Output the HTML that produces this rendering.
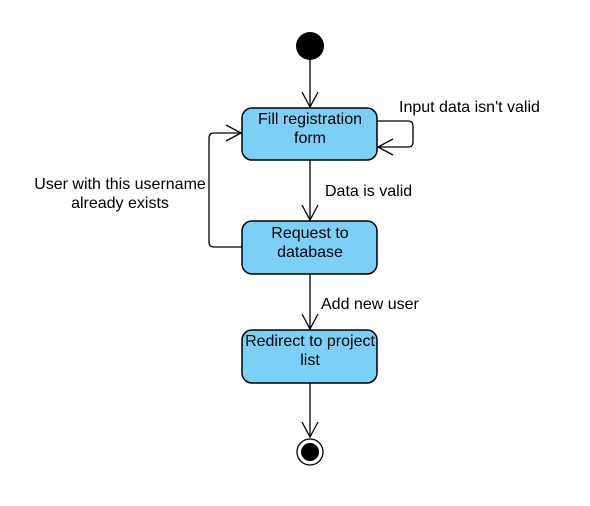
<!DOCTYPE html>
<html><head><style>html,body{margin:0;padding:0;background:#fff;}svg{display:block;}</style></head>
<body>
<svg width="590" height="506" viewBox="0 0 590 506" xmlns="http://www.w3.org/2000/svg" font-family="Liberation Sans, Arial, sans-serif" font-size="16">
<g fill="none" stroke="#000" stroke-width="1.3">
<path d="M310 60 V107"/><path d="M302 92 L310 107 L318 92"/>
<path d="M310 160 V220"/><path d="M302 205 L310 220 L318 205"/>
<path d="M310 274 V329"/><path d="M302 314 L310 329 L318 314"/>
<path d="M310 383 V437"/><path d="M302 422 L310 437 L318 422"/>
<path d="M377 121 H408 Q413 121 413 126 V142 Q413 147 408 147 H378"/><path d="M393 139 L378 147 L393 155"/>
<path d="M242 247 H214 Q209 247 209 242 V138 Q209 133 214 133 H241"/><path d="M226 125 L241 133 L226 141"/>
</g>
<circle cx="310" cy="46" r="14" fill="#000"/>
<circle cx="310" cy="452" r="13" fill="#fff" stroke="#000" stroke-width="1.3"/>
<circle cx="310" cy="452" r="9" fill="#000"/>
<g fill="#7dd0f5" stroke="#000" stroke-width="1.5">
<rect x="242" y="108" width="135" height="52" rx="10"/>
<rect x="242" y="221" width="135" height="53" rx="10"/>
<rect x="242" y="330" width="135" height="53" rx="10"/>
</g>
<g fill="#000" text-anchor="middle">
<text x="310" y="124">Fill registration</text><text x="310" y="143">form</text>
<text x="310" y="238">Request to</text><text x="310" y="257">database</text>
<text x="310" y="346">Redirect to project</text><text x="310" y="365">list</text>
<text x="120" y="189">User with this username</text><text x="120" y="208">already exists</text>
</g>
<g fill="#000">
<text x="399" y="112">Input data isn't valid</text>
<text x="325" y="196">Data is valid</text>
<text x="321" y="309">Add new user</text>
</g>
</svg>
</body></html>
